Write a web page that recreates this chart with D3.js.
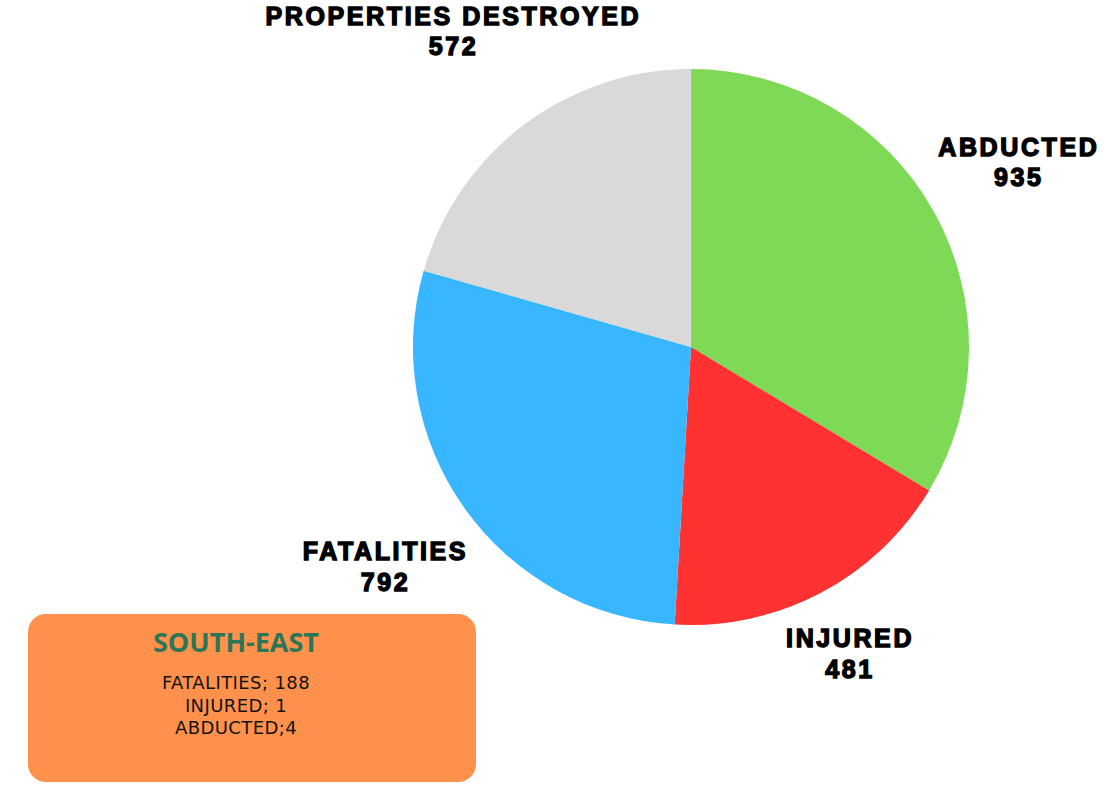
<!DOCTYPE html>
<html>
<head>
<meta charset="utf-8">
<script src="https://cdn.jsdelivr.net/npm/d3@7"></script>
<style>
  body { margin: 0; background: #fff; }
  svg { display: block; }
</style>
</head>
<body>
<div class="chart"></div>
<script>
// slices, clockwise from 12 o'clock
var categories = ["ABDUCTED", "INJURED", "FATALITIES", "PROPERTIES DESTROYED"];
var values = [935, 481, 792, 572];
var colors = ["#7ED957", "#FF3131", "#38B6FF", "#D9D9D9"];

// info box
var boxTitle = "SOUTH-EAST";
var boxLines = ["FATALITIES; 188", "INJURED; 1", "ABDUCTED;4"];

var width = 1106, height = 787;
var cx = 691, cy = 347, radius = 278;

// hand nudges for the labels, like the original layout
var nudge = {
  "ABDUCTED": [0, -3],
  "INJURED": [-17, -28],
  "FATALITIES": [-1, 0],
  "PROPERTIES DESTROYED": [-13, -19]
};

var svg = d3.select(".chart").append("svg")
    .attr("width", width)
    .attr("height", height);

var pie = d3.pie().sort(null).value(function(d) { return d.value; });
var arc = d3.arc().innerRadius(0).outerRadius(radius);
var labelArc = d3.arc().innerRadius(375).outerRadius(375);

var data = categories.map(function(c, i) {
  return {key: c, value: values[i], color: colors[i]};
});

var g = svg.append("g")
    .attr("transform", "translate(" + cx + "," + cy + ")");

g.selectAll(".slice")
    .data(pie(data))
  .enter().append("path")
    .attr("class", "slice")
    .attr("d", arc)
    .style("fill", function(d) { return d.data.color; });

var labels = g.selectAll(".label")
    .data(pie(data))
  .enter().append("text")
    .attr("class", "label")
    .attr("transform", function(d) {
      var c = labelArc.centroid(d);
      var n = nudge[d.data.key];
      return "translate(" + (c[0] + n[0]) + "," + (c[1] + n[1]) + ")";
    })
    .attr("text-anchor", "middle")
    .attr("font-family", "'Liberation Sans', Arial, sans-serif")
    .attr("font-weight", 700)
    .attr("font-size", 25)
    .style("letter-spacing", "2.6px")
    .attr("fill", "#000")
    .attr("stroke", "#000")
    .attr("stroke-width", 1.4);

labels.append("tspan")
    .attr("x", 1.3)
    .attr("dy", "-0.15em")
    .text(function(d) { return d.data.key; });
labels.append("tspan")
    .attr("x", 1.3)
    .attr("dy", "1.22em")
    .text(function(d) { return d.data.value; });

// orange info box
var box = svg.append("g").attr("transform", "translate(28,614)");
box.append("rect")
    .attr("width", 448)
    .attr("height", 168)
    .attr("rx", 18)
    .attr("ry", 18)
    .style("fill", "#FF914D");
box.append("text")
    .attr("x", 208)
    .attr("y", 38)
    .attr("text-anchor", "middle")
    .attr("font-family", "'Open Sans', sans-serif")
    .attr("font-weight", 700)
    .attr("font-size", 27)
    .attr("fill", "#2B7656")
    .text(boxTitle);
box.selectAll(".line")
    .data(boxLines)
  .enter().append("text")
    .attr("class", "line")
    .attr("x", 208)
    .attr("y", function(d, i) { return 75 + i * 22.5; })
    .attr("text-anchor", "middle")
    .attr("font-family", "'DejaVu Sans', sans-serif")
    .attr("font-size", 18)
    .style("letter-spacing", "0.4px")
    .attr("fill", "#111")
    .text(function(d) { return d; });
</script>
</body>
</html>
